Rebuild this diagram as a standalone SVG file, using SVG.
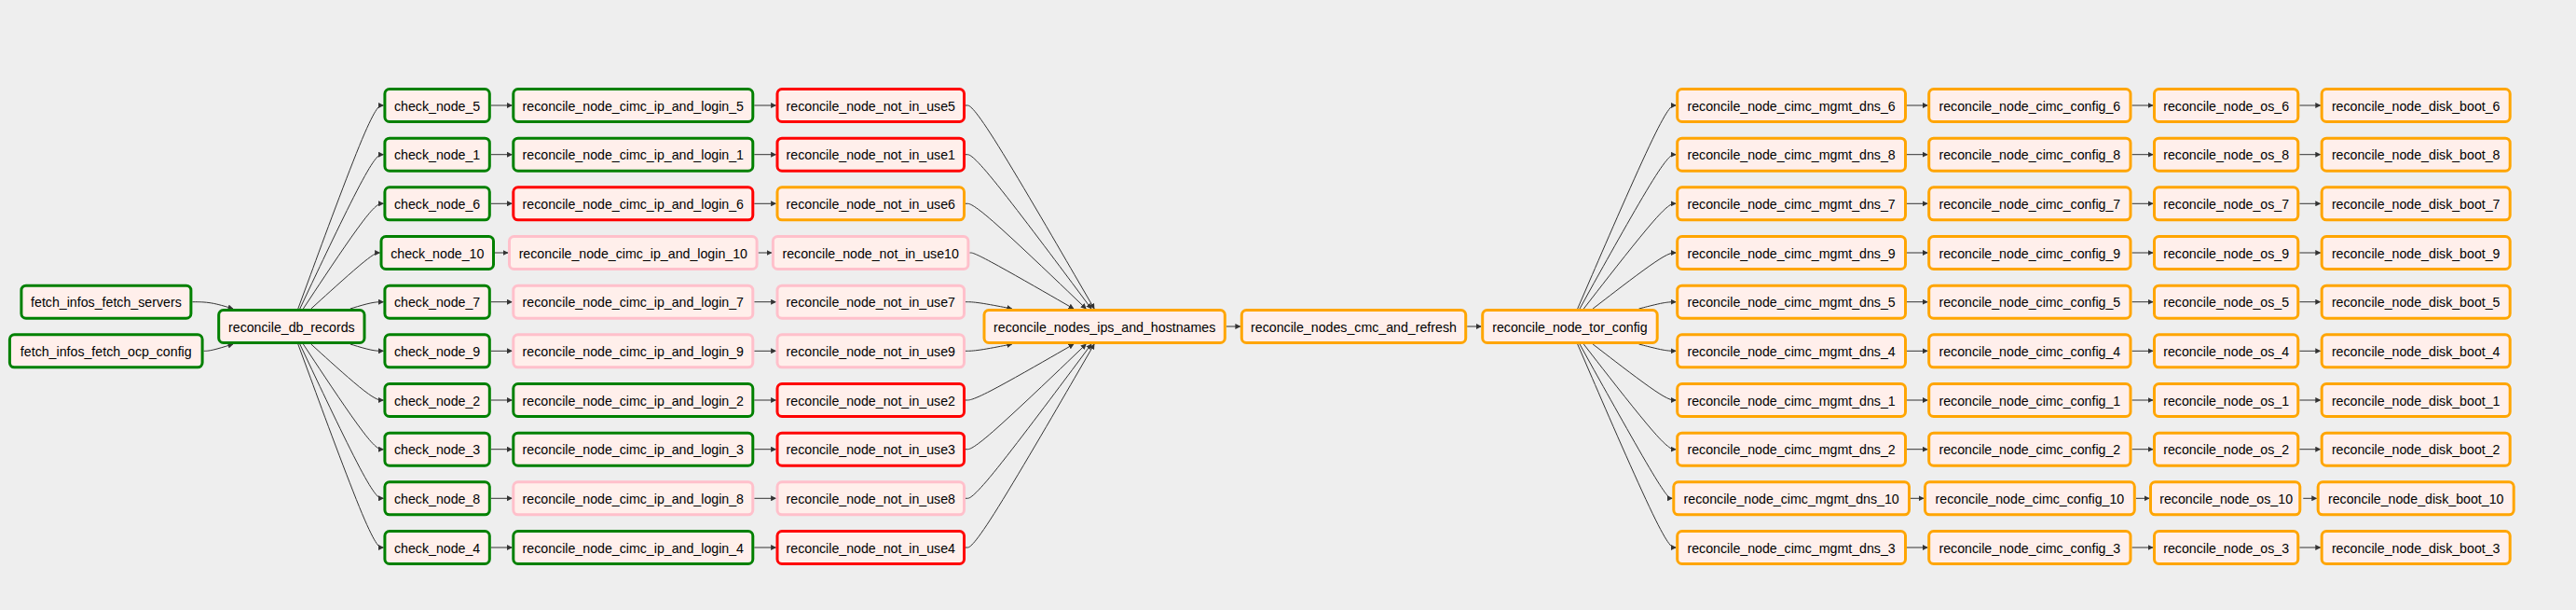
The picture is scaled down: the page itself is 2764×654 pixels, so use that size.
<svg xmlns="http://www.w3.org/2000/svg" width="2764" height="654" viewBox="0 0 2764 654">
<style>
.bg{fill:#eeeeee}
.node rect{fill:#ffefeb;stroke-width:3}
.g rect{stroke:#008000}
.r rect{stroke:#ff0000}
.o rect{stroke:#ffa500}
.p rect{stroke:#ffc0cb}
.node text{font-family:"Liberation Sans",Arial,Helvetica,sans-serif;font-size:14.2px;text-anchor:middle;fill:#000}
.edges path{fill:none;stroke:#333;stroke-width:1;marker-end:url(#ah)}
</style>
<defs>
<marker id="ah" viewBox="0 0 10 10" refX="9" refY="5" markerWidth="6" markerHeight="6" markerUnits="userSpaceOnUse" orient="auto"><path d="M0,0 L10,5 L0,10 z" fill="#333"/></marker>
</defs>
<rect class="bg" x="0" y="0" width="2764" height="654"/>
<g id="edges" class="edges">
<path d="M206.4,323.7 L209.7,323.7 C212.9,323.7 219.4,323.7 226.7,324.9 C233.9,326.1 242,328.6 246,329.8 L250,331"/>
<path d="M218.6,376.3 L219.8,376.3 C221,376.3 223.5,376.3 228.7,375.1 C233.9,373.9 242,371.4 246,370.2 L250,369"/>
<path d="M319.8,331 L333.2,294.7 C346.5,258.3 373.3,185.7 388.5,149.3 C403.8,113 407.6,113 409.5,113 L411.4,113"/>
<path d="M321.8,331 L334.8,303.4 C347.9,275.9 373.9,220.8 388.9,193.3 C403.8,165.7 407.6,165.7 409.5,165.7 L411.4,165.7"/>
<path d="M325.4,331 L337.8,312.2 C350.3,293.4 375.1,255.9 389.5,237.1 C403.8,218.3 407.6,218.3 409.5,218.3 L411.4,218.3"/>
<path d="M333.8,331 L344.8,321 C355.9,311 377.9,291 390.2,281 C402.5,271 405,271 406.3,271 L407.5,271"/>
<path d="M375.8,331 L379.8,329.8 C383.9,328.6 391.9,326.1 397.9,324.9 C403.8,323.7 407.6,323.7 409.5,323.7 L411.4,323.7"/>
<path d="M375.8,369 L379.8,370.2 C383.9,371.4 391.9,373.9 397.9,375.1 C403.8,376.3 407.6,376.3 409.5,376.3 L411.4,376.3"/>
<path d="M333.8,369 L344.8,379 C355.9,389 377.9,409 390.9,419 C403.8,429 407.6,429 409.5,429 L411.4,429"/>
<path d="M325.4,369 L337.8,387.8 C350.3,406.6 375.1,444.1 389.5,462.9 C403.8,481.7 407.6,481.7 409.5,481.7 L411.4,481.7"/>
<path d="M321.8,369 L334.8,396.6 C347.9,424.1 373.9,479.2 388.9,506.8 C403.8,534.3 407.6,534.3 409.5,534.3 L411.4,534.3"/>
<path d="M319.8,369 L333.2,405.3 C346.5,441.7 373.3,514.3 388.5,550.7 C403.8,587 407.6,587 409.5,587 L411.4,587"/>
<path d="M526.8,113 H549.3"/><path d="M809.3,113 H832.5"/>
<path d="M526.8,165.7 H549.3"/><path d="M809.3,165.7 H832.5"/>
<path d="M526.8,218.3 H549.3"/><path d="M809.3,218.3 H832.5"/>
<path d="M531,271 H545"/><path d="M813.6,271 H827.9"/>
<path d="M526.8,323.7 H549.3"/><path d="M809.3,323.7 H832.5"/>
<path d="M526.8,376.3 H549.3"/><path d="M809.3,376.3 H832.5"/>
<path d="M526.8,429 H549.3"/><path d="M809.3,429 H832.5"/>
<path d="M526.8,481.7 H549.3"/><path d="M809.3,481.7 H832.5"/>
<path d="M526.8,534.3 H549.3"/><path d="M809.3,534.3 H832.5"/>
<path d="M526.8,587 H549.3"/><path d="M809.3,587 H832.5"/>
<path d="M1036,113 L1037.9,113 C1039.8,113 1043.6,113 1066.7,149.3 C1089.7,185.7 1131.9,258.3 1153,294.7 L1174.1,331"/>
<path d="M1036,165.7 L1037.9,165.7 C1039.8,165.7 1043.6,165.7 1066.1,193.3 C1088.6,220.8 1129.8,275.9 1150.4,303.4 L1171,331"/>
<path d="M1036,218.3 L1037.9,218.3 C1039.8,218.3 1043.6,218.3 1065.2,237.1 C1086.7,255.9 1126,293.4 1145.7,312.2 L1165.3,331"/>
<path d="M1040.4,271 L1041.6,271 C1042.8,271 1045.1,271 1063.7,281 C1082.3,291 1117.2,311 1134.6,321 L1152,331"/>
<path d="M1036,323.7 L1037.9,323.7 C1039.8,323.7 1043.6,323.7 1051.9,324.9 C1060.2,326.1 1073,328.6 1079.3,329.8 L1085.7,331"/>
<path d="M1036,376.3 L1037.9,376.3 C1039.8,376.3 1043.6,376.3 1051.9,375.1 C1060.2,373.9 1073,371.4 1079.3,370.2 L1085.7,369"/>
<path d="M1036,429 L1037.9,429 C1039.8,429 1043.6,429 1063,419 C1082.3,409 1117.2,389 1134.6,379 L1152,369"/>
<path d="M1036,481.7 L1037.9,481.7 C1039.8,481.7 1043.6,481.7 1065.2,462.9 C1086.7,444.1 1126,406.6 1145.7,387.8 L1165.3,369"/>
<path d="M1036,534.3 L1037.9,534.3 C1039.8,534.3 1043.6,534.3 1066.1,506.8 C1088.6,479.2 1129.8,424.1 1150.4,396.6 L1171,369"/>
<path d="M1036,587 L1037.9,587 C1039.8,587 1043.6,587 1066.7,550.7 C1089.7,514.3 1131.9,441.7 1153,405.3 L1174.1,369"/>
<path d="M1315.8,350 H1330.8"/>
<path d="M1574.2,350 H1589.2"/>
<path d="M1692.7,331 L1708.4,294.7 C1724.1,258.3 1755.6,185.7 1773.2,149.3 C1790.7,113 1794.5,113 1796.3,113 L1798.2,113"/>
<path d="M1695,331 L1710.3,303.4 C1725.7,275.9 1756.3,220.8 1773.5,193.3 C1790.7,165.7 1794.5,165.7 1796.3,165.7 L1798.2,165.7"/>
<path d="M1699.3,331 L1713.9,312.2 C1728.5,293.4 1757.8,255.9 1774.2,237.1 C1790.7,218.3 1794.5,218.3 1796.3,218.3 L1798.2,218.3"/>
<path d="M1709.1,331 L1722.1,321 C1735.1,311 1761,291 1775.9,281 C1790.7,271 1794.5,271 1796.3,271 L1798.2,271"/>
<path d="M1758.5,331 L1763.3,329.8 C1768,328.6 1777.5,326.1 1784.1,324.9 C1790.7,323.7 1794.5,323.7 1796.3,323.7 L1798.2,323.7"/>
<path d="M1758.5,369 L1763.3,370.2 C1768,371.4 1777.5,373.9 1784.1,375.1 C1790.7,376.3 1794.5,376.3 1796.3,376.3 L1798.2,376.3"/>
<path d="M1709.1,369 L1722.1,379 C1735.1,389 1761,409 1775.9,419 C1790.7,429 1794.5,429 1796.3,429 L1798.2,429"/>
<path d="M1699.3,369 L1713.9,387.8 C1728.5,406.6 1757.8,444.1 1774.2,462.9 C1790.7,481.7 1794.5,481.7 1796.3,481.7 L1798.2,481.7"/>
<path d="M1695,369 L1710.3,396.6 C1725.7,424.1 1756.3,479.2 1772.9,506.8 C1789.4,534.3 1791.9,534.3 1793.1,534.3 L1794.3,534.3"/>
<path d="M1692.7,369 L1708.4,405.3 C1724.1,441.7 1755.6,514.3 1773.2,550.7 C1790.7,587 1794.5,587 1796.3,587 L1798.2,587"/>
<path d="M2046,113 H2068.2"/><path d="M2287.5,113 H2310"/><path d="M2467.3,113 H2489.7"/>
<path d="M2046,165.7 H2068.2"/><path d="M2287.5,165.7 H2310"/><path d="M2467.3,165.7 H2489.7"/>
<path d="M2046,218.3 H2068.2"/><path d="M2287.5,218.3 H2310"/><path d="M2467.3,218.3 H2489.7"/>
<path d="M2046,271 H2068.2"/><path d="M2287.5,271 H2310"/><path d="M2467.3,271 H2489.7"/>
<path d="M2046,323.7 H2068.2"/><path d="M2287.5,323.7 H2310"/><path d="M2467.3,323.7 H2489.7"/>
<path d="M2046,376.3 H2068.2"/><path d="M2287.5,376.3 H2310"/><path d="M2467.3,376.3 H2489.7"/>
<path d="M2046,429 H2068.2"/><path d="M2287.5,429 H2310"/><path d="M2467.3,429 H2489.7"/>
<path d="M2046,481.7 H2068.2"/><path d="M2287.5,481.7 H2310"/><path d="M2467.3,481.7 H2489.7"/>
<path d="M2050,534.3 H2064"/><path d="M2291.8,534.3 H2306"/><path d="M2471.3,534.3 H2485.7"/>
<path d="M2046,587 H2068.2"/><path d="M2287.5,587 H2310"/><path d="M2467.3,587 H2489.7"/>
</g>
<g id="fetch_infos_fetch_servers" class="node g"><rect x="22.9" y="306.2" width="182" height="35" rx="5"/><text x="113.9" y="329.2">fetch_infos_fetch_servers</text></g>
<g id="fetch_infos_fetch_ocp_config" class="node g"><rect x="10.4" y="358.8" width="206.7" height="35" rx="5"/><text x="113.75" y="381.8">fetch_infos_fetch_ocp_config</text></g>
<g id="reconcile_db_records" class="node g"><rect x="234.7" y="332.5" width="156.3" height="35" rx="5"/><text x="312.85" y="355.5">reconcile_db_records</text></g>
<g id="check_node_5" class="node g"><rect x="412.9" y="95.5" width="112.4" height="35" rx="5"/><text x="469.1" y="118.5">check_node_5</text></g>
<g id="check_node_1" class="node g"><rect x="412.9" y="148.2" width="112.4" height="35" rx="5"/><text x="469.1" y="171.2">check_node_1</text></g>
<g id="check_node_6" class="node g"><rect x="412.9" y="200.8" width="112.4" height="35" rx="5"/><text x="469.1" y="223.8">check_node_6</text></g>
<g id="check_node_10" class="node g"><rect x="409" y="253.5" width="120.5" height="35" rx="5"/><text x="469.25" y="276.5">check_node_10</text></g>
<g id="check_node_7" class="node g"><rect x="412.9" y="306.2" width="112.4" height="35" rx="5"/><text x="469.1" y="329.2">check_node_7</text></g>
<g id="check_node_9" class="node g"><rect x="412.9" y="358.8" width="112.4" height="35" rx="5"/><text x="469.1" y="381.8">check_node_9</text></g>
<g id="check_node_2" class="node g"><rect x="412.9" y="411.5" width="112.4" height="35" rx="5"/><text x="469.1" y="434.5">check_node_2</text></g>
<g id="check_node_3" class="node g"><rect x="412.9" y="464.2" width="112.4" height="35" rx="5"/><text x="469.1" y="487.2">check_node_3</text></g>
<g id="check_node_8" class="node g"><rect x="412.9" y="516.8" width="112.4" height="35" rx="5"/><text x="469.1" y="539.8">check_node_8</text></g>
<g id="check_node_4" class="node g"><rect x="412.9" y="569.5" width="112.4" height="35" rx="5"/><text x="469.1" y="592.5">check_node_4</text></g>
<g id="reconcile_node_cimc_ip_and_login_5" class="node g"><rect x="550.8" y="95.5" width="257" height="35" rx="5"/><text x="679.3" y="118.5">reconcile_node_cimc_ip_and_login_5</text></g>
<g id="reconcile_node_cimc_ip_and_login_1" class="node g"><rect x="550.8" y="148.2" width="257" height="35" rx="5"/><text x="679.3" y="171.2">reconcile_node_cimc_ip_and_login_1</text></g>
<g id="reconcile_node_cimc_ip_and_login_6" class="node r"><rect x="550.8" y="200.8" width="257" height="35" rx="5"/><text x="679.3" y="223.8">reconcile_node_cimc_ip_and_login_6</text></g>
<g id="reconcile_node_cimc_ip_and_login_10" class="node p"><rect x="546.5" y="253.5" width="265.6" height="35" rx="5"/><text x="679.3" y="276.5">reconcile_node_cimc_ip_and_login_10</text></g>
<g id="reconcile_node_cimc_ip_and_login_7" class="node p"><rect x="550.8" y="306.2" width="257" height="35" rx="5"/><text x="679.3" y="329.2">reconcile_node_cimc_ip_and_login_7</text></g>
<g id="reconcile_node_cimc_ip_and_login_9" class="node p"><rect x="550.8" y="358.8" width="257" height="35" rx="5"/><text x="679.3" y="381.8">reconcile_node_cimc_ip_and_login_9</text></g>
<g id="reconcile_node_cimc_ip_and_login_2" class="node g"><rect x="550.8" y="411.5" width="257" height="35" rx="5"/><text x="679.3" y="434.5">reconcile_node_cimc_ip_and_login_2</text></g>
<g id="reconcile_node_cimc_ip_and_login_3" class="node g"><rect x="550.8" y="464.2" width="257" height="35" rx="5"/><text x="679.3" y="487.2">reconcile_node_cimc_ip_and_login_3</text></g>
<g id="reconcile_node_cimc_ip_and_login_8" class="node p"><rect x="550.8" y="516.8" width="257" height="35" rx="5"/><text x="679.3" y="539.8">reconcile_node_cimc_ip_and_login_8</text></g>
<g id="reconcile_node_cimc_ip_and_login_4" class="node g"><rect x="550.8" y="569.5" width="257" height="35" rx="5"/><text x="679.3" y="592.5">reconcile_node_cimc_ip_and_login_4</text></g>
<g id="reconcile_node_not_in_use5" class="node r"><rect x="834" y="95.5" width="200.5" height="35" rx="5"/><text x="934.25" y="118.5">reconcile_node_not_in_use5</text></g>
<g id="reconcile_node_not_in_use1" class="node r"><rect x="834" y="148.2" width="200.5" height="35" rx="5"/><text x="934.25" y="171.2">reconcile_node_not_in_use1</text></g>
<g id="reconcile_node_not_in_use6" class="node o"><rect x="834" y="200.8" width="200.5" height="35" rx="5"/><text x="934.25" y="223.8">reconcile_node_not_in_use6</text></g>
<g id="reconcile_node_not_in_use10" class="node p"><rect x="829.4" y="253.5" width="209.5" height="35" rx="5"/><text x="934.15" y="276.5">reconcile_node_not_in_use10</text></g>
<g id="reconcile_node_not_in_use7" class="node p"><rect x="834" y="306.2" width="200.5" height="35" rx="5"/><text x="934.25" y="329.2">reconcile_node_not_in_use7</text></g>
<g id="reconcile_node_not_in_use9" class="node p"><rect x="834" y="358.8" width="200.5" height="35" rx="5"/><text x="934.25" y="381.8">reconcile_node_not_in_use9</text></g>
<g id="reconcile_node_not_in_use2" class="node r"><rect x="834" y="411.5" width="200.5" height="35" rx="5"/><text x="934.25" y="434.5">reconcile_node_not_in_use2</text></g>
<g id="reconcile_node_not_in_use3" class="node r"><rect x="834" y="464.2" width="200.5" height="35" rx="5"/><text x="934.25" y="487.2">reconcile_node_not_in_use3</text></g>
<g id="reconcile_node_not_in_use8" class="node p"><rect x="834" y="516.8" width="200.5" height="35" rx="5"/><text x="934.25" y="539.8">reconcile_node_not_in_use8</text></g>
<g id="reconcile_node_not_in_use4" class="node r"><rect x="834" y="569.5" width="200.5" height="35" rx="5"/><text x="934.25" y="592.5">reconcile_node_not_in_use4</text></g>
<g id="reconcile_nodes_ips_and_hostnames" class="node o"><rect x="1056" y="332.5" width="258.3" height="35" rx="5"/><text x="1185.15" y="355.5">reconcile_nodes_ips_and_hostnames</text></g>
<g id="reconcile_nodes_cmc_and_refresh" class="node o"><rect x="1332.3" y="332.5" width="240.4" height="35" rx="5"/><text x="1452.5" y="355.5">reconcile_nodes_cmc_and_refresh</text></g>
<g id="reconcile_node_tor_config" class="node o"><rect x="1590.7" y="332.5" width="187.5" height="35" rx="5"/><text x="1684.45" y="355.5">reconcile_node_tor_config</text></g>
<g id="reconcile_node_cimc_mgmt_dns_6" class="node o"><rect x="1799.7" y="95.5" width="244.8" height="35" rx="5"/><text x="1922.1" y="118.5">reconcile_node_cimc_mgmt_dns_6</text></g>
<g id="reconcile_node_cimc_mgmt_dns_8" class="node o"><rect x="1799.7" y="148.2" width="244.8" height="35" rx="5"/><text x="1922.1" y="171.2">reconcile_node_cimc_mgmt_dns_8</text></g>
<g id="reconcile_node_cimc_mgmt_dns_7" class="node o"><rect x="1799.7" y="200.8" width="244.8" height="35" rx="5"/><text x="1922.1" y="223.8">reconcile_node_cimc_mgmt_dns_7</text></g>
<g id="reconcile_node_cimc_mgmt_dns_9" class="node o"><rect x="1799.7" y="253.5" width="244.8" height="35" rx="5"/><text x="1922.1" y="276.5">reconcile_node_cimc_mgmt_dns_9</text></g>
<g id="reconcile_node_cimc_mgmt_dns_5" class="node o"><rect x="1799.7" y="306.2" width="244.8" height="35" rx="5"/><text x="1922.1" y="329.2">reconcile_node_cimc_mgmt_dns_5</text></g>
<g id="reconcile_node_cimc_mgmt_dns_4" class="node o"><rect x="1799.7" y="358.8" width="244.8" height="35" rx="5"/><text x="1922.1" y="381.8">reconcile_node_cimc_mgmt_dns_4</text></g>
<g id="reconcile_node_cimc_mgmt_dns_1" class="node o"><rect x="1799.7" y="411.5" width="244.8" height="35" rx="5"/><text x="1922.1" y="434.5">reconcile_node_cimc_mgmt_dns_1</text></g>
<g id="reconcile_node_cimc_mgmt_dns_2" class="node o"><rect x="1799.7" y="464.2" width="244.8" height="35" rx="5"/><text x="1922.1" y="487.2">reconcile_node_cimc_mgmt_dns_2</text></g>
<g id="reconcile_node_cimc_mgmt_dns_10" class="node o"><rect x="1795.8" y="516.8" width="252.7" height="35" rx="5"/><text x="1922.15" y="539.8">reconcile_node_cimc_mgmt_dns_10</text></g>
<g id="reconcile_node_cimc_mgmt_dns_3" class="node o"><rect x="1799.7" y="569.5" width="244.8" height="35" rx="5"/><text x="1922.1" y="592.5">reconcile_node_cimc_mgmt_dns_3</text></g>
<g id="reconcile_node_cimc_config_6" class="node o"><rect x="2069.7" y="95.5" width="216.3" height="35" rx="5"/><text x="2177.85" y="118.5">reconcile_node_cimc_config_6</text></g>
<g id="reconcile_node_cimc_config_8" class="node o"><rect x="2069.7" y="148.2" width="216.3" height="35" rx="5"/><text x="2177.85" y="171.2">reconcile_node_cimc_config_8</text></g>
<g id="reconcile_node_cimc_config_7" class="node o"><rect x="2069.7" y="200.8" width="216.3" height="35" rx="5"/><text x="2177.85" y="223.8">reconcile_node_cimc_config_7</text></g>
<g id="reconcile_node_cimc_config_9" class="node o"><rect x="2069.7" y="253.5" width="216.3" height="35" rx="5"/><text x="2177.85" y="276.5">reconcile_node_cimc_config_9</text></g>
<g id="reconcile_node_cimc_config_5" class="node o"><rect x="2069.7" y="306.2" width="216.3" height="35" rx="5"/><text x="2177.85" y="329.2">reconcile_node_cimc_config_5</text></g>
<g id="reconcile_node_cimc_config_4" class="node o"><rect x="2069.7" y="358.8" width="216.3" height="35" rx="5"/><text x="2177.85" y="381.8">reconcile_node_cimc_config_4</text></g>
<g id="reconcile_node_cimc_config_1" class="node o"><rect x="2069.7" y="411.5" width="216.3" height="35" rx="5"/><text x="2177.85" y="434.5">reconcile_node_cimc_config_1</text></g>
<g id="reconcile_node_cimc_config_2" class="node o"><rect x="2069.7" y="464.2" width="216.3" height="35" rx="5"/><text x="2177.85" y="487.2">reconcile_node_cimc_config_2</text></g>
<g id="reconcile_node_cimc_config_10" class="node o"><rect x="2065.5" y="516.8" width="224.8" height="35" rx="5"/><text x="2177.9" y="539.8">reconcile_node_cimc_config_10</text></g>
<g id="reconcile_node_cimc_config_3" class="node o"><rect x="2069.7" y="569.5" width="216.3" height="35" rx="5"/><text x="2177.85" y="592.5">reconcile_node_cimc_config_3</text></g>
<g id="reconcile_node_os_6" class="node o"><rect x="2311.5" y="95.5" width="154.3" height="35" rx="5"/><text x="2388.65" y="118.5">reconcile_node_os_6</text></g>
<g id="reconcile_node_os_8" class="node o"><rect x="2311.5" y="148.2" width="154.3" height="35" rx="5"/><text x="2388.65" y="171.2">reconcile_node_os_8</text></g>
<g id="reconcile_node_os_7" class="node o"><rect x="2311.5" y="200.8" width="154.3" height="35" rx="5"/><text x="2388.65" y="223.8">reconcile_node_os_7</text></g>
<g id="reconcile_node_os_9" class="node o"><rect x="2311.5" y="253.5" width="154.3" height="35" rx="5"/><text x="2388.65" y="276.5">reconcile_node_os_9</text></g>
<g id="reconcile_node_os_5" class="node o"><rect x="2311.5" y="306.2" width="154.3" height="35" rx="5"/><text x="2388.65" y="329.2">reconcile_node_os_5</text></g>
<g id="reconcile_node_os_4" class="node o"><rect x="2311.5" y="358.8" width="154.3" height="35" rx="5"/><text x="2388.65" y="381.8">reconcile_node_os_4</text></g>
<g id="reconcile_node_os_1" class="node o"><rect x="2311.5" y="411.5" width="154.3" height="35" rx="5"/><text x="2388.65" y="434.5">reconcile_node_os_1</text></g>
<g id="reconcile_node_os_2" class="node o"><rect x="2311.5" y="464.2" width="154.3" height="35" rx="5"/><text x="2388.65" y="487.2">reconcile_node_os_2</text></g>
<g id="reconcile_node_os_10" class="node o"><rect x="2307.5" y="516.8" width="160.3" height="35" rx="5"/><text x="2388.65" y="539.8">reconcile_node_os_10</text></g>
<g id="reconcile_node_os_3" class="node o"><rect x="2311.5" y="569.5" width="154.3" height="35" rx="5"/><text x="2388.65" y="592.5">reconcile_node_os_3</text></g>
<g id="reconcile_node_disk_boot_6" class="node o"><rect x="2491.2" y="95.5" width="202" height="35" rx="5"/><text x="2592.2" y="118.5">reconcile_node_disk_boot_6</text></g>
<g id="reconcile_node_disk_boot_8" class="node o"><rect x="2491.2" y="148.2" width="202" height="35" rx="5"/><text x="2592.2" y="171.2">reconcile_node_disk_boot_8</text></g>
<g id="reconcile_node_disk_boot_7" class="node o"><rect x="2491.2" y="200.8" width="202" height="35" rx="5"/><text x="2592.2" y="223.8">reconcile_node_disk_boot_7</text></g>
<g id="reconcile_node_disk_boot_9" class="node o"><rect x="2491.2" y="253.5" width="202" height="35" rx="5"/><text x="2592.2" y="276.5">reconcile_node_disk_boot_9</text></g>
<g id="reconcile_node_disk_boot_5" class="node o"><rect x="2491.2" y="306.2" width="202" height="35" rx="5"/><text x="2592.2" y="329.2">reconcile_node_disk_boot_5</text></g>
<g id="reconcile_node_disk_boot_4" class="node o"><rect x="2491.2" y="358.8" width="202" height="35" rx="5"/><text x="2592.2" y="381.8">reconcile_node_disk_boot_4</text></g>
<g id="reconcile_node_disk_boot_1" class="node o"><rect x="2491.2" y="411.5" width="202" height="35" rx="5"/><text x="2592.2" y="434.5">reconcile_node_disk_boot_1</text></g>
<g id="reconcile_node_disk_boot_2" class="node o"><rect x="2491.2" y="464.2" width="202" height="35" rx="5"/><text x="2592.2" y="487.2">reconcile_node_disk_boot_2</text></g>
<g id="reconcile_node_disk_boot_10" class="node o"><rect x="2487.2" y="516.8" width="210" height="35" rx="5"/><text x="2592.2" y="539.8">reconcile_node_disk_boot_10</text></g>
<g id="reconcile_node_disk_boot_3" class="node o"><rect x="2491.2" y="569.5" width="202" height="35" rx="5"/><text x="2592.2" y="592.5">reconcile_node_disk_boot_3</text></g>
</svg>
